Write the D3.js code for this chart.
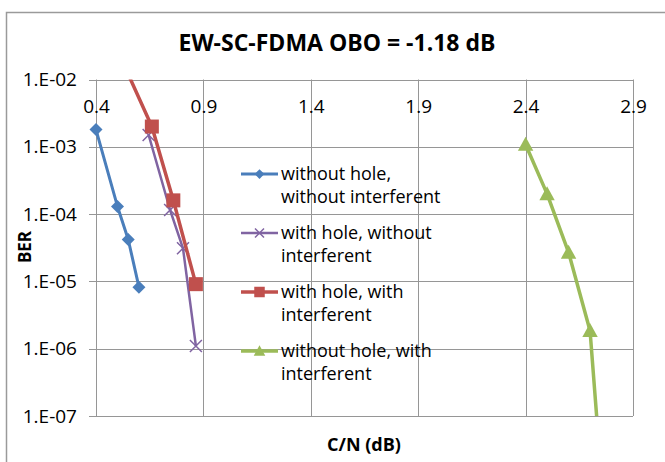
<!DOCTYPE html>
<html>
<head>
<meta charset="utf-8">
<script src="https://cdn.jsdelivr.net/npm/d3@7"></script>
<style>
  body { margin: 0; background: #fff; }
  svg { display: block; font-family: "Open Sans", sans-serif; }
</style>
</head>
<body>
<script>
// C/N (dB) vs BER
var xTicks = [0.4, 0.9, 1.4, 1.9, 2.4, 2.9]
var yTicks = [1e-2, 1e-3, 1e-4, 1e-5, 1e-6, 1e-7]
var yTickLabels = ["1.E-02", "1.E-03", "1.E-04", "1.E-05", "1.E-06", "1.E-07"]

var names = [
  ["without hole,", "without interferent"],
  ["with hole, without", "interferent"],
  ["with hole, with", "interferent"],
  ["without hole, with", "interferent"]
]

var cnNoHoleNoInt = [0.4, 0.5, 0.55, 0.6]
var berNoHoleNoInt = [1.8e-3, 1.3e-4, 4.2e-5, 8.2e-6]

var cnHoleNoInt = [0.645, 0.745, 0.805, 0.865]
var berHoleNoInt = [1.5e-3, 1.15e-4, 3.1e-5, 1.1e-6]

var cnHoleInt = [0.5, 0.66, 0.76, 0.865]
var berHoleInt = [2.7e-2, 2.0e-3, 1.6e-4, 9.1e-6]

var cnNoHoleInt = [2.4, 2.5, 2.6, 2.7, 2.75]
var berNoHoleInt = [1.08e-3, 2.0e-4, 2.7e-5, 1.85e-6, 1.6e-8]

var width = 665, height = 462
var pLeft = 96, pRight = 633, pTop = 79.5, pBottom = 416

var series = [
  { x: cnNoHoleNoInt, y: berNoHoleNoInt, color: "#4a7ebb", lw: 3, marker: "diamond" },
  { x: cnHoleNoInt, y: berHoleNoInt, color: "#8064a2", lw: 2.5, marker: "x" },
  { x: cnHoleInt, y: berHoleInt, color: "#c0504d", lw: 3.5, marker: "square" },
  { x: cnNoHoleInt, y: berNoHoleInt, color: "#9bbb59", lw: 3.5, marker: "triangle" }
]

var svg = d3.select("body").append("svg")
  .attr("width", width)
  .attr("height", height)

// outer chart border
svg.append("rect")
  .attr("x", 6.5).attr("y", 12.5)
  .attr("width", 700).attr("height", 500)
  .attr("fill", "none").attr("stroke", "#9a9a9a").attr("stroke-width", 1.5)

var x = d3.scaleLinear().domain([0.4, 2.9]).range([pLeft, pRight])
var y = d3.scaleLog().domain([1e-7, 1e-2]).range([pBottom, pTop])

// gridlines
svg.append("g").selectAll("line").data(yTicks).enter().append("line")
  .attr("x1", pLeft - 7).attr("x2", pRight)
  .attr("y1", function (d) { return Math.round(y(d)) + 0.5 })
  .attr("y2", function (d) { return Math.round(y(d)) + 0.5 })
  .attr("stroke", "#969696").attr("stroke-width", 1)

svg.append("g").selectAll("line").data(xTicks).enter().append("line")
  .attr("x1", function (d) { return Math.round(x(d)) + 0.5 })
  .attr("x2", function (d) { return Math.round(x(d)) + 0.5 })
  .attr("y1", pTop).attr("y2", pBottom)
  .attr("stroke", "#969696").attr("stroke-width", 1)

// y tick labels
svg.append("g").selectAll("text").data(yTicks).enter().append("text")
  .attr("x", 77)
  .attr("y", function (d) { return y(d) })
  .attr("dy", "0.35em")
  .attr("text-anchor", "end")
  .attr("font-size", 19)
  .attr("fill", "#000")
  .text(function (d, i) { return yTickLabels[i] })

// x tick labels (under the top axis)
svg.append("g").selectAll("text").data(xTicks).enter().append("text")
  .attr("x", function (d) { return x(d) + 0.5 })
  .attr("y", 113)
  .attr("text-anchor", "middle")
  .attr("font-size", 19)
  .attr("fill", "#000")
  .text(function (d) { return d3.format(".1f")(d) })

// titles
svg.append("text")
  .attr("x", 337).attr("y", 51)
  .attr("text-anchor", "middle")
  .attr("font-size", 23).attr("font-weight", "bold")
  .text("EW-SC-FDMA OBO = -1.18 dB")

svg.append("text")
  .attr("x", 364).attr("y", 451)
  .attr("text-anchor", "middle")
  .attr("font-size", 18).attr("font-weight", "bold")
  .text("C/N (dB)")

svg.append("text")
  .attr("transform", "translate(31,247) rotate(-90)")
  .attr("text-anchor", "middle")
  .attr("font-size", 17).attr("font-weight", "bold")
  .text("BER")

svg.append("clipPath").attr("id", "plot")
  .append("rect")
  .attr("x", pLeft).attr("y", pTop)
  .attr("width", pRight - pLeft).attr("height", pBottom - pTop)

function drawMarker(g, type, color, size) {
  if (type === "diamond") {
    var h = size / 2
    g.append("path").attr("d", "M0," + (-h) + "L" + h + ",0L0," + h + "L" + (-h) + ",0Z")
      .attr("fill", color)
  } else if (type === "square") {
    g.append("rect").attr("x", -size / 2).attr("y", -size / 2)
      .attr("width", size).attr("height", size).attr("fill", color)
  } else if (type === "triangle") {
    var w = size * 1.1
    g.append("path").attr("d", "M0," + (-size * 0.55) + "L" + (w / 2) + "," + (size * 0.45) + "L" + (-w / 2) + "," + (size * 0.45) + "Z")
      .attr("fill", color)
  } else if (type === "x") {
    var s = size / 2
    g.append("path").attr("d", "M" + (-s) + "," + (-s) + "L" + s + "," + s + "M" + (-s) + "," + s + "L" + s + "," + (-s))
      .attr("stroke", color).attr("stroke-width", 1.5).attr("fill", "none")
  }
}

var markerSize = { diamond: 13, square: 14, triangle: 14, x: 12 }

var line = d3.line()
  .x(function (d) { return x(d[0]) })
  .y(function (d) { return y(d[1]) })

series.forEach(function (s) {
  var pts = s.x.map(function (v, i) { return [v, s.y[i]] })
  svg.append("path")
    .datum(pts)
    .attr("clip-path", "url(#plot)")
    .attr("d", line)
    .attr("fill", "none")
    .attr("stroke", s.color)
    .attr("stroke-width", s.lw)
    .attr("stroke-linejoin", "round")

  pts.filter(function (p) { return p[1] <= 1e-2 && p[1] >= 1e-7 })
    .forEach(function (p) {
      var g = svg.append("g").attr("transform", "translate(" + x(p[0]) + "," + y(p[1]) + ")")
      drawMarker(g, s.marker, s.color, markerSize[s.marker])
    })
})

// legend
var legY = [174, 233, 292, 351]
series.forEach(function (s, i) {
  var g = svg.append("g").attr("transform", "translate(241," + legY[i] + ")")
  g.append("line").attr("x1", 0).attr("x2", 37).attr("y1", 0).attr("y2", 0)
    .attr("stroke", s.color).attr("stroke-width", s.lw)
  var m = g.append("g").attr("transform", "translate(18.5,0)")
  drawMarker(m, s.marker, s.color, markerSize[s.marker] * 0.75)
  var t = g.append("text").attr("x", 40).attr("y", 5.5).attr("font-size", 18).attr("fill", "#000")
  t.append("tspan").attr("x", 40).text(names[i][0])
  t.append("tspan").attr("x", 40).attr("dy", 23).text(names[i][1])
})
</script>
</body>
</html>
